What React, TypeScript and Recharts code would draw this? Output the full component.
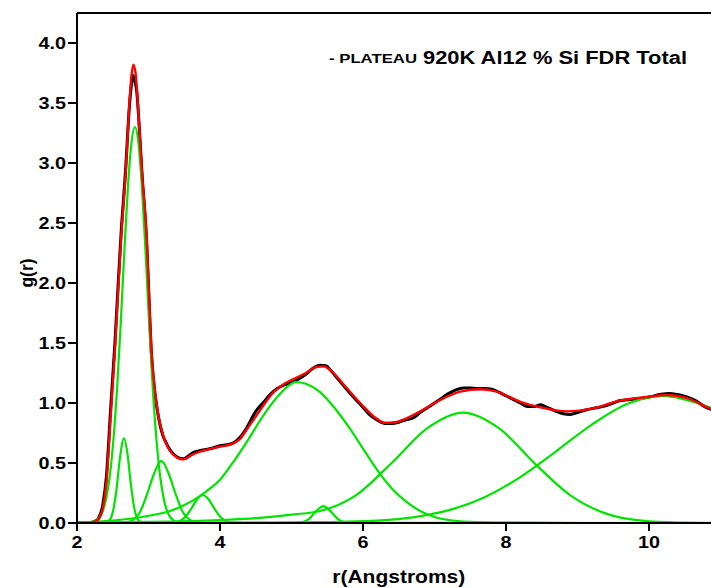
import React from 'react';
import { LineChart, Line, XAxis, YAxis } from 'recharts';

// ---------- text ----------
const titlePrefix = '- PLATEAU';
const titleMain = '920K Al12 % Si FDR Total';
const xTitle = 'r(Angstroms)';
const yTitle = 'g(r)';

// ---------- ticks ----------
const xMajorTicks = [2, 4, 6, 8, 10];
const xMinorTicks = [3, 5, 7, 9, 11];
const yMajorTicks = [0, 0.5, 1, 1.5, 2, 2.5, 3, 3.5, 4];
const yMinorTicks = [0.25, 0.75, 1.25, 1.75, 2.25, 2.75, 3.25, 3.75];
const xDomain = [2, 11];
const yDomain = [0, 4.25];

// ---------- experimental g(r) (black) ----------
const rExp = [2.0, 2.1, 2.2, 2.25, 2.3, 2.36, 2.41, 2.47, 2.53, 2.57, 2.615, 2.68, 2.73, 2.76, 2.785, 2.81, 2.835, 2.86, 2.91, 2.975, 3.0, 3.04, 3.09, 3.14, 3.2, 3.245, 3.3, 3.4, 3.49, 3.55, 3.62, 3.7, 3.8, 3.9, 4.0, 4.1, 4.19, 4.28, 4.37, 4.5, 4.6, 4.7, 4.8, 4.9, 5.0, 5.1, 5.2, 5.3, 5.4, 5.48, 5.55, 5.65, 5.72, 5.85, 5.96, 6.08, 6.19, 6.3, 6.4, 6.5, 6.6, 6.7, 6.8, 6.9, 7.0, 7.1, 7.2, 7.3, 7.4, 7.5, 7.6, 7.7, 7.8, 7.9, 8.0, 8.1, 8.2, 8.3, 8.4, 8.48, 8.55, 8.7, 8.8, 8.9, 9.0, 9.1, 9.22, 9.35, 9.5, 9.6, 9.75, 9.9, 10.0, 10.15, 10.28, 10.4, 10.53, 10.65, 10.75, 10.85, 11.0];
const gExp = [0, 0, 0.005, 0.015, 0.04, 0.15, 0.38, 0.95, 1.5, 1.93, 2.4, 2.95, 3.45, 3.65, 3.73, 3.68, 3.6, 3.4, 2.9, 2.33, 1.97, 1.42, 1.08, 0.88, 0.73, 0.67, 0.61, 0.55, 0.535, 0.555, 0.585, 0.6, 0.612, 0.625, 0.643, 0.652, 0.668, 0.715, 0.79, 0.93, 1.0, 1.07, 1.12, 1.15, 1.17, 1.2, 1.24, 1.29, 1.315, 1.31, 1.27, 1.2, 1.15, 1.06, 0.99, 0.91, 0.86, 0.83, 0.83, 0.84, 0.86, 0.875, 0.92, 0.96, 1.0, 1.04, 1.08, 1.11, 1.125, 1.125, 1.12, 1.12, 1.115, 1.09, 1.06, 1.03, 1.0, 0.97, 0.97, 0.985, 0.97, 0.93, 0.91, 0.905, 0.92, 0.94, 0.955, 0.97, 1.0, 1.02, 1.03, 1.04, 1.05, 1.07, 1.08, 1.07, 1.05, 1.02, 0.98, 0.95, 0.92];

// ---------- total fit (red) ----------
const rFit = [2.0, 2.15, 2.2, 2.25, 2.3, 2.36, 2.41, 2.47, 2.53, 2.57, 2.615, 2.68, 2.73, 2.76, 2.79, 2.82, 2.853, 2.91, 2.975, 3.0, 3.04, 3.09, 3.14, 3.2, 3.245, 3.3, 3.4, 3.49, 3.6, 3.72, 3.85, 4.0, 4.19, 4.28, 4.37, 4.56, 4.75, 4.9, 5.03, 5.2, 5.35, 5.45, 5.55, 5.72, 5.96, 6.19, 6.3, 6.45, 6.6, 6.8, 7.08, 7.36, 7.64, 7.87, 8.2, 8.48, 8.85, 9.22, 9.59, 9.97, 10.25, 10.53, 10.85, 11.0];
const gFit = [0, 0, 0.003, 0.012, 0.03, 0.12, 0.33, 0.886, 1.44, 1.88, 2.36, 2.91, 3.47, 3.72, 3.82, 3.74, 3.47, 2.91, 2.36, 2.0, 1.44, 1.1, 0.886, 0.74, 0.664, 0.6, 0.545, 0.53, 0.565, 0.594, 0.615, 0.636, 0.664, 0.7, 0.775, 0.94, 1.09, 1.16, 1.2, 1.25, 1.3, 1.305, 1.27, 1.16, 1.0, 0.87, 0.835, 0.84, 0.87, 0.93, 1.025, 1.094, 1.114, 1.094, 1.01, 0.964, 0.93, 0.955, 1.02, 1.05, 1.067, 1.04, 0.955, 0.92];

// ---------- fitted components (green) ----------
const rPeak1 = [2.0, 2.3, 2.4, 2.45, 2.5, 2.55, 2.6, 2.657, 2.7, 2.75, 2.8, 2.85, 2.9, 3.0, 11.0];
const gPeak1 = [0, 0, 0.003, 0.02, 0.09, 0.27, 0.54, 0.706, 0.6, 0.34, 0.126, 0.03, 0.005, 0, 0];

const rPeak2 = [2.0, 2.21, 2.31, 2.41, 2.46, 2.51, 2.56, 2.61, 2.66, 2.71, 2.76, 2.81, 2.86, 2.91, 2.96, 3.01, 3.06, 3.11, 3.16, 3.21, 3.31, 3.41, 3.6, 11.0];
const gPeak2 = [0, 0.007, 0.044, 0.21, 0.4, 0.7, 1.12, 1.65, 2.24, 2.78, 3.16, 3.3, 3.16, 2.78, 2.24, 1.65, 1.12, 0.7, 0.4, 0.21, 0.044, 0.007, 0, 0];

const rPeak3 = [2.0, 2.58, 2.68, 2.78, 2.88, 2.98, 3.08, 3.18, 3.28, 3.38, 3.48, 3.58, 3.68, 3.78, 11.0];
const gPeak3 = [0, 0.001, 0.005, 0.025, 0.09, 0.24, 0.414, 0.517, 0.414, 0.24, 0.09, 0.025, 0.005, 0.001, 0];

const rPeak4 = [2.0, 3.28, 3.36, 3.44, 3.52, 3.6, 3.68, 3.76, 3.84, 3.92, 4.0, 4.08, 4.16, 4.3, 11.0];
const gPeak4 = [0, 0, 0.004, 0.017, 0.054, 0.121, 0.198, 0.233, 0.198, 0.121, 0.054, 0.017, 0.004, 0, 0];

const rPeak5 = [2.0, 2.5, 3.0, 3.3, 3.6, 3.8, 4.0, 4.2, 4.4, 4.6, 4.8, 5.0, 5.05, 5.2, 5.4, 5.6, 5.8, 6.0, 6.2, 6.4, 6.6, 6.8, 7.0, 7.2, 7.5, 8.0, 9.0, 11.0];
const gPeak5 = [0.005, 0.02, 0.06, 0.1, 0.18, 0.26, 0.36, 0.52, 0.7, 0.89, 1.05, 1.16, 1.175, 1.16, 1.09, 0.96, 0.8, 0.62, 0.44, 0.29, 0.18, 0.1, 0.05, 0.025, 0.01, 0.003, 0, 0];

const rPeak6 = [2.0, 5.045, 5.145, 5.245, 5.345, 5.445, 5.545, 5.645, 5.745, 5.845, 11.0];
const gPeak6 = [0, 0, 0.006, 0.035, 0.099, 0.14, 0.099, 0.035, 0.006, 0, 0];

const rPeak7 = [2.0, 3.0, 4.0, 4.5, 5.0, 5.4, 5.9, 6.4, 6.9, 7.4, 7.9, 8.4, 8.9, 9.4, 9.9, 10.4, 11.0];
const gPeak7 = [0.005, 0.01, 0.025, 0.04, 0.07, 0.1, 0.23, 0.5, 0.79, 0.92, 0.79, 0.497, 0.23, 0.078, 0.019, 0.004, 0.001];

const rPeak8 = [2.0, 3.0, 4.0, 4.7, 5.2, 5.7, 6.2, 6.7, 7.2, 7.7, 8.2, 8.7, 9.2, 9.7, 10.2, 10.7, 11.0];
const gPeak8 = [0, 0.002, 0.003, 0.004, 0.006, 0.01, 0.02, 0.047, 0.107, 0.215, 0.382, 0.597, 0.82, 0.994, 1.06, 0.994, 0.93];

const toPoints = (rs: number[], gs: number[]) => rs.map((r, i) => ({ r, g: gs[i] }));

const expData = toPoints(rExp, gExp);
const fitData = toPoints(rFit, gFit);
const peaks = [
  toPoints(rPeak1, gPeak1),
  toPoints(rPeak2, gPeak2),
  toPoints(rPeak3, gPeak3),
  toPoints(rPeak4, gPeak4),
  toPoints(rPeak5, gPeak5),
  toPoints(rPeak6, gPeak6),
  toPoints(rPeak7, gPeak7),
  toPoints(rPeak8, gPeak8),
];

// ---------- style ----------
const FONT = '"Liberation Sans", Arial, Helvetica, sans-serif';
const STRETCH = 1.2;
const TICK_FS = 16.5;
const GREEN = '#00e400';
const THIN = 0.01;

const XTick = (props: any) => {
  const { x, y, payload } = props;
  return (
    <g transform={`translate(${x},${y}) scale(${STRETCH},1)`}>
      <text x={0} y={0} dy="0.71em" textAnchor="middle" fontFamily={FONT} fontWeight="bold" fontSize={TICK_FS} fill="#000">
        {String(payload.value)}
      </text>
    </g>
  );
};

const YTick = (props: any) => {
  const { x, y, payload } = props;
  return (
    <g transform={`translate(${x},${y}) scale(${STRETCH},1)`}>
      <text x={0} y={0} dy="0.355em" textAnchor="end" fontFamily={FONT} fontWeight="bold" fontSize={TICK_FS} fill="#000">
        {Number(payload.value).toFixed(1)}
      </text>
    </g>
  );
};

const XLabel = (props: any) => {
  const vb = props.viewBox || { x: 77, y: 523, width: 643.5 };
  const cx = vb.x + vb.width / 2;
  return (
    <g transform={`translate(${cx},${523 + 60}) scale(${STRETCH},1)`}>
      <text x={0} y={0} textAnchor="middle" fontFamily={FONT} fontWeight="bold" fontSize={17.5} fill="#000">
        {xTitle}
      </text>
    </g>
  );
};

const YLabel = () => (
  <g transform={`translate(33,273) rotate(-90)`}>
    <text x={0} y={0} textAnchor="middle" fontFamily={FONT} fontWeight="bold" fontSize={17.5} fill="#000">
      {yTitle}
    </text>
  </g>
);

const CHART_W = 740;
const CHART_H = 588;
const axisStroke = { stroke: '#000', strokeWidth: 2 };

export default function App() {
  return (
    <div style={{ position: 'absolute', left: 0, top: 0, width: 711, height: 588, overflow: 'hidden', background: '#fff' }}>
      <LineChart
        width={CHART_W}
        height={CHART_H}
        margin={{ top: 13, left: 77, right: CHART_W - 720.5, bottom: CHART_H - 523 }}
      >
        {/* main axes */}
        <XAxis type="number" dataKey="r" domain={xDomain} allowDataOverflow ticks={xMajorTicks} interval={0}
          height={THIN} tickSize={8} tickMargin={5} tick={<XTick />} axisLine={axisStroke}
          tickLine={axisStroke} label={<XLabel />} />
        <YAxis type="number" dataKey="g" domain={yDomain} allowDataOverflow ticks={yMajorTicks} interval={0}
          width={THIN} tickSize={9} tickMargin={2} tick={<YTick />} axisLine={axisStroke}
          tickLine={axisStroke} label={<YLabel />} />
        {/* minor tick axes */}
        <XAxis xAxisId="xminor" type="number" dataKey="r" domain={xDomain} allowDataOverflow ticks={xMinorTicks} interval={0}
          height={THIN} tick={false} tickSize={5} axisLine={false} tickLine={axisStroke} />
        <YAxis yAxisId="yminor" type="number" dataKey="g" domain={yDomain} allowDataOverflow ticks={yMinorTicks} interval={0}
          width={THIN} tick={false} tickSize={5} axisLine={false} tickLine={axisStroke} />
        {/* top & right frame with inward ticks */}
        <XAxis xAxisId="top" orientation="top" mirror type="number" dataKey="r" domain={xDomain} allowDataOverflow ticks={xMajorTicks} interval={0}
          height={THIN} tick={false} tickSize={9} axisLine={axisStroke} tickLine={axisStroke} />
        <XAxis xAxisId="topminor" orientation="top" mirror type="number" dataKey="r" domain={xDomain} allowDataOverflow ticks={xMinorTicks} interval={0}
          height={THIN} tick={false} tickSize={5} axisLine={false} tickLine={axisStroke} />
        <YAxis yAxisId="right" orientation="right" mirror type="number" dataKey="g" domain={yDomain} allowDataOverflow ticks={yMajorTicks} interval={0}
          width={THIN} tick={false} tickSize={9} axisLine={axisStroke} tickLine={axisStroke} />

        <Line data={expData} dataKey="g" type="monotone" stroke="#000" strokeWidth={3} dot={false} activeDot={false} isAnimationActive={false} />
        {peaks.map((p, i) => (
          <Line key={i} data={p} dataKey="g" type="monotone" stroke={GREEN} strokeWidth={2.2} dot={false} activeDot={false} isAnimationActive={false} />
        ))}
        <Line data={fitData} dataKey="g" type="monotone" stroke="#ff0000" strokeWidth={2.4} dot={false} activeDot={false} isAnimationActive={false} />
      </LineChart>
      <svg width={711} height={588} style={{ position: 'absolute', left: 0, top: 0, pointerEvents: 'none' }}>
        <text x={329} y={63} textLength={88} lengthAdjust="spacingAndGlyphs" fontFamily={FONT} fontWeight="bold" fontSize={12} fill="#000">
          {titlePrefix}
        </text>
        <text x={423} y={63.5} textLength={264} lengthAdjust="spacingAndGlyphs" fontFamily={FONT} fontWeight="bold" fontSize={17.5} fill="#000">
          {titleMain}
        </text>
      </svg>
    </div>
  );
}
